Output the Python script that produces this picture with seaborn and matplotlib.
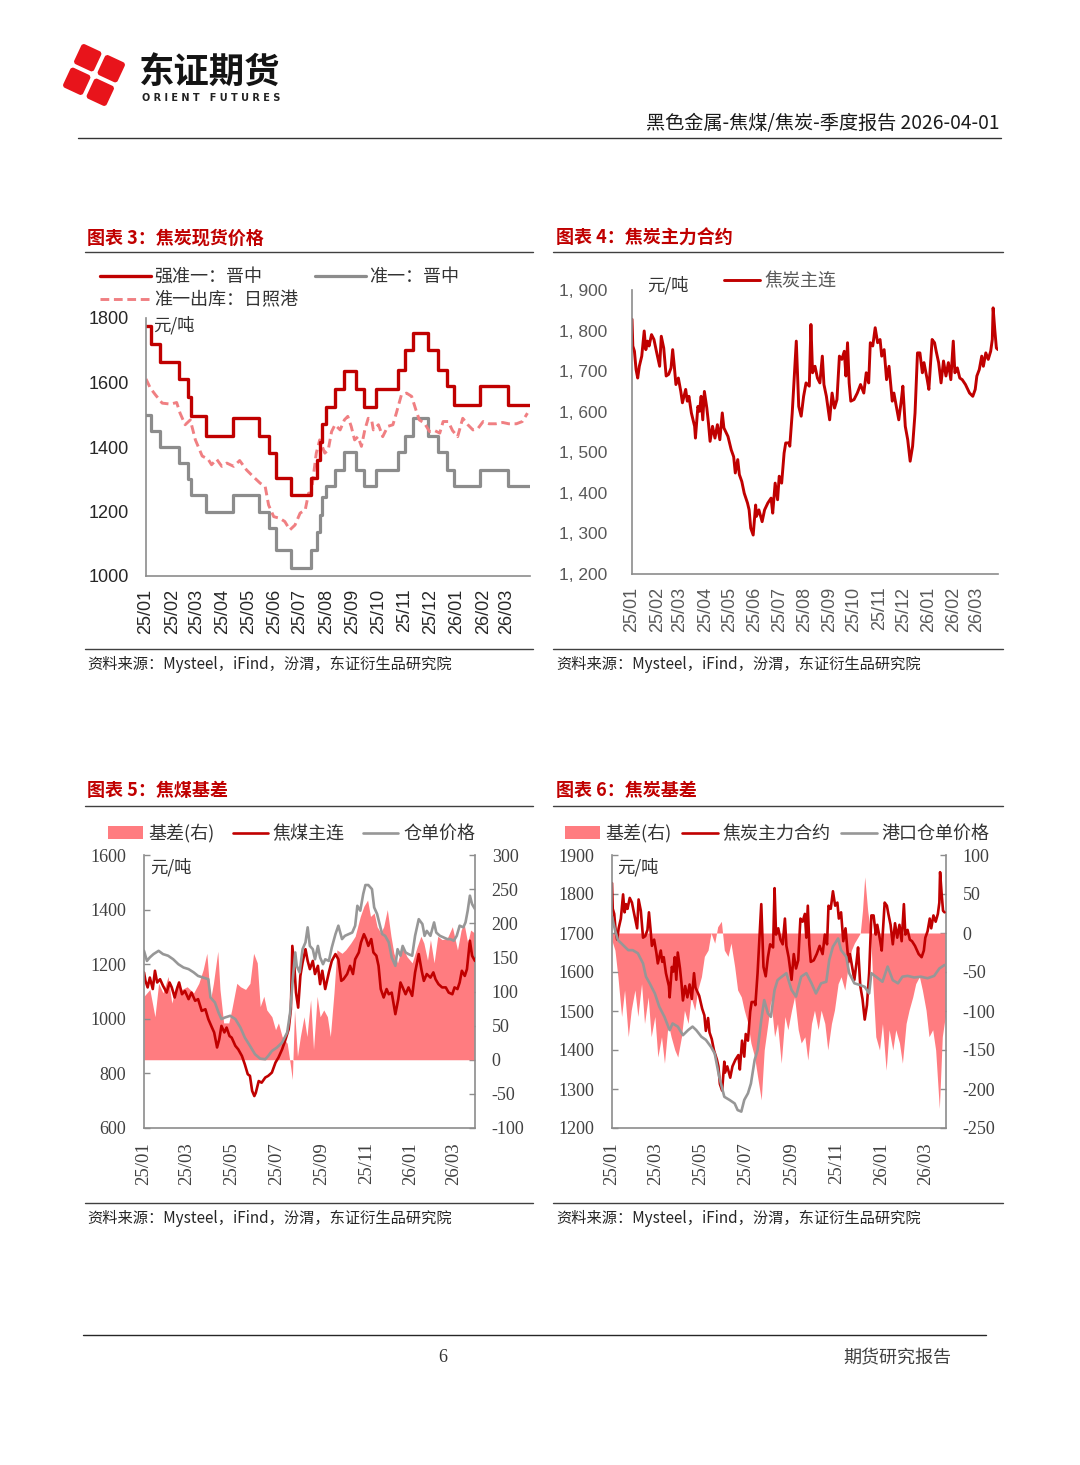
import matplotlib
matplotlib.use('Agg')
import numpy as np
import pandas as pd
import matplotlib.pyplot as plt
import matplotlib.dates as mdates
from matplotlib.ticker import FixedLocator, FuncFormatter
from matplotlib.patches import FancyBboxPatch
from matplotlib.transforms import Affine2D
import seaborn as sns

# ---------------- data (day offsets from 2025-01-01) ----------------
# Chart 3: coke spot prices (step series)
spot_days = [0, 6, 17, 39, 49, 53, 71, 102, 133, 144, 153, 170, 194, 201, 204, 207, 211,
             222, 233, 247, 256, 270, 296, 304, 314, 331, 343, 353, 362, 392, 425, 451]
strong_jz = [1775, 1720, 1665, 1610, 1555, 1495, 1435, 1490, 1435, 1380, 1305, 1250, 1305,
             1360, 1415, 1470, 1525, 1580, 1635, 1580, 1525, 1580, 1640, 1700, 1755, 1700,
             1640, 1590, 1530, 1590, 1530, 1530]
grade1_jz = [1500, 1450, 1400, 1350, 1300, 1250, 1200, 1250, 1200, 1150, 1080, 1025, 1080,
             1135, 1190, 1245, 1280, 1330, 1385, 1330, 1280, 1330, 1385, 1435, 1490, 1435,
             1385, 1330, 1280, 1330, 1280, 1280]
rz_days = [0, 5, 11, 19, 29, 36, 40, 46, 52, 58, 66, 73, 77, 83, 89, 95, 103, 110, 118, 126,
           134, 140, 144, 150, 157, 163, 169, 175, 181, 187, 191, 194, 200, 204, 210, 214, 218,
           222, 228, 233, 237, 241, 245, 249, 253, 257, 261, 265, 267, 273, 278, 284, 290, 294,
           300, 306, 312, 317, 321, 327, 333, 339, 345, 349, 355, 360, 366, 372, 378, 384, 390,
           396, 403, 411, 419, 426, 435, 442, 448]
rz_port = [1611, 1583, 1562, 1536, 1533, 1538, 1505, 1469, 1484, 1422, 1372, 1362, 1345, 1362,
           1340, 1350, 1340, 1358, 1329, 1308, 1288, 1277, 1220, 1184, 1179, 1169, 1143, 1158,
           1195, 1205, 1257, 1257, 1381, 1422, 1381, 1391, 1448, 1469, 1453, 1484, 1495, 1464,
           1422, 1432, 1402, 1453, 1489, 1484, 1453, 1469, 1432, 1464, 1469, 1505, 1562, 1567,
           1557, 1515, 1484, 1474, 1448, 1451, 1443, 1479, 1479, 1451, 1432, 1489, 1469, 1453,
           1458, 1479, 1472, 1472, 1476, 1472, 1472, 1479, 1505]

# Chart 4 / 6: coke main futures
coke_days = [0, 1, 3, 5, 7, 9, 12, 15, 17, 19, 21, 24, 27, 30, 34, 36, 39, 42, 45, 48, 50, 52,
             54, 57, 60, 62, 66, 68, 70, 73, 77, 78, 81, 83, 85, 87, 89, 92, 94, 96, 99, 102,
             105, 108, 111, 113, 118, 122, 125, 127, 130, 132, 135, 138, 142, 144, 146, 149,
             152, 153, 156, 160, 163, 167, 171, 173, 176, 179, 181, 184, 187, 189, 193, 194,
             197, 200, 202, 205, 208, 211, 214, 218, 220, 222, 225, 228, 231, 234, 236, 239,
             243, 246, 249, 252, 255, 258, 261, 263, 265, 267, 269, 273, 277, 281, 285, 288,
             291, 293, 296, 299, 302, 305, 307, 310, 313, 316, 320, 322, 325, 328, 331, 333,
             336, 339, 342, 345, 348, 351, 354, 357, 359, 363, 365, 369, 372, 374, 377, 380,
             383, 386, 389, 392, 395, 397, 400, 403, 406, 410, 415, 419, 422, 424, 427, 430,
             432, 435, 438, 441, 443, 444, 446, 448, 450]
coke_main = [1828, 1762, 1749, 1704, 1683, 1712, 1737, 1799, 1753, 1774, 1762, 1790, 1778, 1749,
             1712, 1786, 1757, 1688, 1692, 1708, 1753, 1712, 1667, 1683, 1650, 1622, 1655, 1626,
             1638, 1597, 1564, 1535, 1613, 1601, 1638, 1580, 1650, 1609, 1572, 1527, 1564, 1535,
             1568, 1531, 1597, 1560, 1539, 1506, 1489, 1449, 1482, 1445, 1428, 1399, 1375, 1358,
             1313, 1296, 1370, 1342, 1358, 1329, 1358, 1375, 1387, 1350, 1424, 1383, 1441, 1424,
             1498, 1523, 1523, 1515, 1597, 1704, 1774, 1613, 1589, 1638, 1671, 1663, 1815, 1696,
             1712, 1683, 1671, 1737, 1667, 1638, 1580, 1646, 1609, 1630, 1737, 1729, 1749, 1688,
             1770, 1671, 1626, 1630, 1646, 1667, 1646, 1696, 1671, 1770, 1762, 1807, 1770, 1778,
             1737, 1753, 1679, 1712, 1626, 1646, 1613, 1580, 1626, 1663, 1564, 1531, 1478, 1515,
             1597, 1745, 1745, 1696, 1721, 1679, 1655, 1778, 1770, 1749, 1721, 1671, 1725, 1688,
             1721, 1679, 1774, 1696, 1708, 1683, 1679, 1667, 1646, 1638, 1655, 1688, 1704, 1737,
             1712, 1745, 1729, 1749, 1778, 1856, 1803, 1757, 1753]

# Chart 5: coking coal
cc_days = [0, 2, 5, 8, 12, 15, 18, 22, 26, 31, 35, 38, 42, 45, 48, 52, 56, 61, 65, 70, 74, 79,
           84, 88, 93, 96, 100, 103, 106, 110, 113, 117, 120, 125, 129, 134, 138, 142, 145, 148,
           151, 153, 157, 161, 166, 170, 175, 180, 184, 189, 193, 198, 201, 203, 206, 208, 211,
           214, 217, 221, 224, 227, 231, 234, 238, 241, 244, 248, 253, 257, 262, 266, 270, 273,
           278, 282, 286, 289, 294, 297, 301, 304, 307, 311, 314, 318, 321, 324, 328, 332, 335,
           339, 344, 348, 351, 354, 358, 362, 367, 371, 376, 380, 383, 387, 392, 396, 399, 403,
           408, 413, 417, 422, 425, 429, 432, 435, 439, 442, 446, 449, 453]
cc_main = [1170, 1139, 1115, 1151, 1109, 1176, 1133, 1145, 1121, 1096, 1133, 1115, 1078, 1109,
           1133, 1090, 1102, 1072, 1096, 1066, 1072, 1029, 1035, 999, 968, 950, 895, 925, 974,
           950, 968, 937, 931, 901, 888, 864, 833, 797, 791, 736, 717, 729, 772, 766, 785, 791,
           803, 840, 858, 888, 919, 962, 1035, 1267, 1182, 1096, 1041, 1157, 1206, 1255, 1212,
           1182, 1212, 1164, 1194, 1127, 1176, 1109, 1170, 1212, 1237, 1218, 1139, 1145, 1164,
           1194, 1164, 1218, 1243, 1280, 1310, 1292, 1267, 1292, 1243, 1231, 1194, 1109, 1078,
           1109, 1090, 1096, 1017, 1072, 1133, 1115, 1090, 1115, 1084, 1170, 1237, 1176, 1139,
           1164, 1151, 1170, 1145, 1127, 1115, 1115, 1096, 1090, 1115, 1109, 1133, 1176, 1157,
           1182, 1286, 1231, 1212]
wr_days = [0, 4, 8, 13, 20, 26, 33, 40, 47, 54, 61, 68, 74, 81, 88, 91, 97, 102, 106, 111, 118,
           125, 132, 138, 145, 152, 159, 166, 170, 175, 182, 189, 196, 200, 204, 207, 209, 213,
           217, 221, 224, 227, 231, 234, 238, 241, 245, 248, 253, 257, 262, 266, 271, 275, 280,
           285, 289, 292, 296, 300, 303, 307, 312, 315, 319, 323, 326, 330, 335, 339, 344, 347,
           351, 354, 358, 362, 367, 371, 376, 381, 384, 387, 392, 397, 400, 405, 410, 415, 419,
           424, 428, 432, 437, 440, 443, 446, 449, 453]
cc_warrant = [1249, 1212, 1225, 1237, 1249, 1237, 1231, 1218, 1200, 1188, 1182, 1170, 1157, 1151,
              1145, 1078, 1060, 1023, 999, 1005, 1011, 999, 968, 931, 901, 870, 854, 852, 864,
              882, 895, 913, 950, 1023, 1157, 1243, 1194, 1170, 1255, 1280, 1335, 1267, 1255,
              1218, 1267, 1225, 1200, 1218, 1212, 1261, 1310, 1341, 1292, 1304, 1310, 1316, 1341,
              1414, 1396, 1457, 1490, 1490, 1475, 1408, 1384, 1341, 1310, 1304, 1280, 1225, 1194,
              1255, 1231, 1267, 1243, 1237, 1231, 1304, 1365, 1347, 1304, 1322, 1304, 1353, 1316,
              1304, 1298, 1292, 1292, 1286, 1304, 1341, 1335, 1353, 1396, 1451, 1420, 1402]
b5_days = [0, 8, 15, 20, 26, 33, 38, 45, 52, 59, 68, 75, 81, 86, 91, 95, 101, 104, 109, 116,
           120, 127, 132, 139, 145, 150, 155, 159, 164, 168, 175, 180, 184, 189, 196, 200, 203,
           206, 210, 214, 219, 223, 228, 232, 237, 241, 246, 251, 255, 260, 264, 271, 276, 283,
           289, 296, 301, 306, 310, 315, 319, 324, 328, 333, 338, 342, 347, 353, 360, 367, 374,
           379, 383, 388, 392, 397, 402, 408, 415, 422, 429, 434, 438, 443, 447, 452]
cc_basis = [93, 103, 63, 112, 98, 122, 83, 112, 103, 107, 98, 112, 132, 156, 88, 112, 159, 103,
            54, 54, 73, 112, 107, 103, 112, 156, 142, 78, 93, 73, 63, 44, 54, 34, 24, -5, -29,
            73, 5, 34, 63, 34, 88, 15, 93, 63, 73, 63, 34, 98, 161, 156, 161, 171, 181, 210, 225,
            234, 210, 215, 195, 186, 195, 220, 181, 156, 142, 166, 151, 142, 166, 181, 171, 146,
            176, 142, 181, 176, 178, 195, 161, 190, 200, 171, 190, 186]

# Chart 6: coke port warrant and basis
pw_days = [0, 4, 8, 15, 22, 28, 35, 42, 46, 51, 58, 64, 71, 78, 82, 89, 96, 103, 109, 114, 121,
           127, 134, 139, 145, 152, 159, 166, 170, 175, 179, 184, 188, 193, 197, 202, 206, 211,
           215, 220, 224, 227, 236, 243, 249, 256, 263, 270, 276, 283, 290, 294, 299, 306, 310,
           317, 321, 328, 335, 342, 348, 351, 360, 366, 373, 380, 387, 393, 400, 409, 418, 427,
           436, 443, 450]
coke_port_warrant = [1742, 1708, 1682, 1669, 1656, 1656, 1648, 1622, 1588, 1571, 1545, 1511,
                     1485, 1451, 1468, 1460, 1438, 1451, 1460, 1451, 1434, 1426, 1408, 1391,
                     1332, 1280, 1272, 1263, 1246, 1242, 1272, 1289, 1314, 1374, 1400, 1477,
                     1528, 1494, 1485, 1554, 1579, 1584, 1597, 1554, 1537, 1588, 1597, 1571,
                     1545, 1571, 1575, 1631, 1665, 1686, 1656, 1639, 1597, 1571, 1567, 1562,
                     1545, 1597, 1584, 1575, 1614, 1579, 1571, 1588, 1590, 1586, 1588, 1584,
                     1590, 1609, 1618]
b6_days = [0, 4, 8, 13, 17, 22, 26, 31, 35, 40, 44, 49, 53, 58, 62, 67, 71, 76, 80, 85, 89, 94,
           98, 103, 107, 112, 116, 121, 125, 130, 134, 139, 143, 148, 152, 157, 161, 166, 170,
           175, 179, 184, 188, 193, 197, 202, 206, 211, 215, 220, 224, 229, 234, 238, 243, 247,
           252, 256, 261, 265, 270, 274, 279, 283, 288, 292, 297, 301, 306, 310, 315, 319, 324,
           328, 333, 336, 339, 342, 346, 350, 353, 357, 362, 366, 371, 375, 380, 384, 389, 393,
           398, 402, 407, 411, 416, 420, 425, 429, 434, 438, 443, 447, 451]
coke_basis = [-10, -22, -56, -107, -73, -133, -99, -73, -107, -65, -116, -82, -133, -107, -159,
              -133, -167, -116, -133, -150, -159, -133, -99, -116, -82, -99, -73, -56, -30, -22,
              0, -13, 8, 15, -22, -30, -13, -43, -73, -82, -99, -116, -141, -159, -184, -214,
              -150, -116, -86, -133, -116, -167, -107, -124, -99, -82, -124, -141, -133, -163,
              -116, -99, -124, -99, -116, -150, -116, -99, -65, -56, -73, -47, -22, -13, -5, 0,
              29, 72, 29, 0, -65, -133, -150, -116, -176, -124, -150, -124, -141, -167, -116,
              -99, -82, -65, -56, -73, -99, -133, -124, -150, -225, -133, -107]

# ---------------- style ----------------
sns.set_style('white')
plt.rcParams['font.family'] = ['Noto Sans CJK SC', 'DejaVu Sans']
plt.rcParams['axes.unicode_minus'] = False

RED = '#C00000'
GRAY = '#8C8C8C'
GRAY2 = '#979797'
PINK_LINE = '#F07F82'
PINK_FILL = '#FF7C80'
SPINE = '#8C8C8C'
TXT = '#262626'

BASE = pd.Timestamp('2025-01-01')


def to_dates(days):
    return BASE + pd.to_timedelta(np.asarray(days), unit='D')


W, H = 1080, 1465
fig = plt.figure(figsize=(W / 100, H / 100), dpi=100)
fig.patch.set_facecolor('white')


def make_ax(l, t, r, b):
    return fig.add_axes([l / W, 1 - b / H, (r - l) / W, (b - t) / H])


def base_style(ax, sides):
    for s in ['top', 'right', 'left', 'bottom']:
        ax.spines[s].set_visible(s in sides)
        ax.spines[s].set_color(SPINE)
        ax.spines[s].set_linewidth(1.2)
    ax.set_xlabel('')
    ax.set_ylabel('')
    ax.grid(False)


def fig_anchor(x, y):
    return (x / W, 1 - y / H)


# ---------------- Chart 3 ----------------
ax3 = make_ax(146, 318, 530, 576)
d_spot = to_dates(spot_days)
sns.lineplot(x=d_spot, y=grade1_jz, ax=ax3, color=GRAY, linewidth=2.3,
             drawstyle='steps-post', estimator=None)
h_gray3 = ax3.lines[-1]
sns.lineplot(x=to_dates(rz_days), y=rz_port, ax=ax3, color=PINK_LINE, linewidth=2.1,
             linestyle=(0, (3, 1.6)), estimator=None)
h_pink3 = ax3.lines[-1]
sns.lineplot(x=d_spot, y=strong_jz, ax=ax3, color=RED, linewidth=2.4,
             drawstyle='steps-post', estimator=None)
h_red3 = ax3.lines[-1]
ax3.set_ylim(1000, 1800)
ax3.yaxis.set_major_locator(FixedLocator([1000, 1200, 1400, 1600, 1800]))
ax3.set_xlim(to_dates([0])[0], to_dates([451])[0])
ax3.xaxis.set_major_locator(mdates.MonthLocator())
ax3.xaxis.set_major_formatter(mdates.DateFormatter('%y/%m'))
base_style(ax3, ['left', 'bottom'])
ax3.tick_params(axis='y', direction='in', length=4, width=1, color=SPINE, pad=12,
                labelsize=13, labelcolor=TXT, labelfontfamily='Liberation Sans')
ax3.tick_params(axis='x', direction='in', length=4, width=1, color=SPINE, pad=9,
                labelsize=13, labelcolor=TXT, labelrotation=90, labelfontfamily='Liberation Sans')
leg3 = ax3.legend(handles=[h_red3, h_pink3, h_gray3],
                  labels=['强准一：晋中', '准一出库：日照港', '准一：晋中'],
                  ncol=2, loc='upper left', bbox_to_anchor=fig_anchor(100, 268),
                  bbox_transform=fig.transFigure, frameon=False, borderpad=0,
                  borderaxespad=0, handlelength=2.8, handletextpad=0.2,
                  columnspacing=0.95, labelspacing=0.3, prop={'size': 13})
for t in leg3.get_texts():
    t.set_color('#333333')

# ---------------- Chart 4 ----------------
ax4 = make_ax(632, 290, 998, 574)
sns.lineplot(x=to_dates(coke_days), y=coke_main, ax=ax4, color=RED, linewidth=2.1,
             estimator=None)
h_red4 = ax4.lines[-1]
ax4.set_ylim(1200, 1900)
ax4.yaxis.set_major_locator(FixedLocator(list(range(1200, 1901, 100))))
ax4.yaxis.set_major_formatter(FuncFormatter(lambda v, p: f"{int(v) // 1000}, {int(v) % 1000:03d}"))
ax4.set_xlim(to_dates([0])[0], to_dates([450])[0])
ax4.xaxis.set_major_locator(mdates.MonthLocator())
ax4.xaxis.set_major_formatter(mdates.DateFormatter('%y/%m'))
base_style(ax4, ['left', 'bottom'])
ax4.tick_params(axis='y', direction='in', length=4, width=1, color=SPINE, pad=18,
                labelsize=12.5, labelcolor='#595959', labelfontfamily='Liberation Sans')
ax4.tick_params(axis='x', direction='in', length=4, width=1, color=SPINE, pad=9,
                labelsize=13, labelcolor='#595959', labelrotation=90, labelfontfamily='Liberation Sans')
leg4 = ax4.legend(handles=[h_red4], labels=['焦炭主连'], loc='upper left',
                  bbox_to_anchor=fig_anchor(724, 272), bbox_transform=fig.transFigure,
                  frameon=False, borderpad=0, borderaxespad=0, handlelength=2.0,
                  handletextpad=0.25, prop={'size': 13})
for t in leg4.get_texts():
    t.set_color('#595959')


# ---------------- dual-axis charts ----------------
def dual_chart(box, fut_days, fut_vals, wr_d, wr_v, bas_d, bas_v, left_lim, left_ticks,
               right_lim, right_ticks, xmax, labels, anchor, colsp):
    ax = make_ax(*box)
    axr = ax.twinx()
    ax.set_zorder(axr.get_zorder() + 1)
    ax.patch.set_visible(False)
    fill = axr.fill_between(to_dates(bas_d), 0, bas_v, color=PINK_FILL, linewidth=0)
    sns.lineplot(x=to_dates(fut_days), y=fut_vals, ax=ax, color=RED, linewidth=1.9,
                 estimator=None)
    h_red = ax.lines[-1]
    sns.lineplot(x=to_dates(wr_d), y=wr_v, ax=ax, color=GRAY2, linewidth=1.9,
                 estimator=None)
    h_gray = ax.lines[-1]
    ax.set_ylim(*left_lim)
    ax.yaxis.set_major_locator(FixedLocator(left_ticks))
    axr.set_ylim(*right_lim)
    axr.yaxis.set_major_locator(FixedLocator(right_ticks))
    ax.set_xlim(to_dates([0])[0], to_dates([xmax])[0])
    ax.xaxis.set_major_locator(mdates.MonthLocator(bymonth=[1, 3, 5, 7, 9, 11]))
    ax.xaxis.set_major_formatter(mdates.DateFormatter('%y/%m'))
    base_style(ax, ['left', 'bottom'])
    base_style(axr, ['right'])
    ax.tick_params(axis='y', direction='in', length=4, width=1, color=SPINE, pad=13,
                   labelsize=13, labelcolor='#404040', labelfontfamily='Liberation Serif')
    ax.tick_params(axis='x', direction='in', length=4, width=1, color=SPINE, pad=10,
                   labelsize=13.5, labelcolor='#404040', labelrotation=90,
                   labelfontfamily='Liberation Serif')
    axr.tick_params(axis='y', direction='in', length=4, width=1, color=SPINE, pad=12,
                    labelsize=13, labelcolor='#404040', labelfontfamily='Liberation Serif')
    leg = ax.legend(handles=[fill, h_red, h_gray], labels=labels, ncol=3, loc='upper left',
                    bbox_to_anchor=fig_anchor(*anchor), bbox_transform=fig.transFigure,
                    frameon=False, borderpad=0, borderaxespad=0, handlelength=1.95,
                    handletextpad=0.28, columnspacing=colsp, prop={'size': 13})
    for t in leg.get_texts():
        t.set_color('#333333')
    return ax, axr


dual_chart((144, 855, 475, 1128), cc_days, cc_main, wr_days, cc_warrant, b5_days, cc_basis,
           (600, 1600), list(range(600, 1601, 200)), (-100, 300), list(range(-100, 301, 50)),
           453, ['基差(右)', '焦煤主连', '仓单价格'], (108, 824), 1.0)
dual_chart((612, 855, 946, 1128), coke_days, coke_main, pw_days, coke_port_warrant, b6_days,
           coke_basis, (1200, 1900), list(range(1200, 1901, 100)), (-250, 100),
           list(range(-250, 101, 50)), 452, ['基差(右)', '焦炭主力合约', '港口仓单价格'],
           (565, 824), 0.6)

# ---------------- page decoration ----------------
deco = fig.add_axes([0, 0, 1, 1], zorder=20)
deco.set_xlim(0, W)
deco.set_ylim(H, 0)
deco.axis('off')
deco.patch.set_alpha(0)

# logo
cx, cy, s, g, ang = 94, 75, 22, 4, 25
rot = Affine2D().rotate_deg_around(cx, cy, ang) + deco.transData
for dx in (-1, 1):
    for dy in (-1, 1):
        px = cx + dx * (s + g) / 2 - s / 2
        py = cy + dy * (s + g) / 2 - s / 2
        deco.add_patch(FancyBboxPatch((px, py), s, s, boxstyle='round,pad=0,rounding_size=3',
                                      fc='#E8141B', ec='none', transform=rot))
deco.text(139, 73, '东证期货', fontsize=25.5, fontweight='bold', color='#141414',
          ha='left', va='center')
deco.text(142, 98, 'O R I E N T   F U T U R E S', fontsize=7.0, fontweight='bold',
          color='#222222', ha='left', va='center', family='DejaVu Sans')

deco.text(1000, 124, '黑色金属-焦煤/焦炭-季度报告 2026-04-01', ha='right', va='center',
          fontsize=13.8, color='#1a1a1a')
deco.plot([78, 1001], [138, 138], color='#333333', lw=1.0)

titles = [(87, 238, '图表 3：焦炭现货价格'), (556, 238, '图表 4：焦炭主力合约'),
          (87, 791, '图表 5：焦煤基差'), (556, 791, '图表 6：焦炭基差')]
for x, y, t in titles:
    deco.text(x, y, t, color=RED, fontsize=13, fontweight='bold', ha='left', va='center')

for y in (252, 649, 806, 1203):
    deco.plot([85, 533], [y, y], color='#404040', lw=1.0)
    deco.plot([553, 1003], [y, y], color='#404040', lw=1.0)

src = '资料来源：Mysteel，iFind，汾渭，东证衍生品研究院'
for x, y in [(87, 664), (556, 664), (87, 1218), (556, 1218)]:
    deco.text(x, y, src, fontsize=11, color=TXT, ha='left', va='center')

for x, y in [(153, 325), (647, 285), (150, 867), (617, 867)]:
    deco.text(x, y, '元/吨', fontsize=12.5, color='#333333', ha='left', va='center')

deco.plot([83, 986], [1335, 1335], color='#262626', lw=1.0)
deco.text(443, 1358, '6', fontsize=13, color='#333333', ha='center', va='center',
          family='Liberation Serif')
deco.text(897, 1358, '期货研究报告', fontsize=13, color='#404040', ha='center', va='center')

fig.savefig('out.png', dpi=100, facecolor='white')
